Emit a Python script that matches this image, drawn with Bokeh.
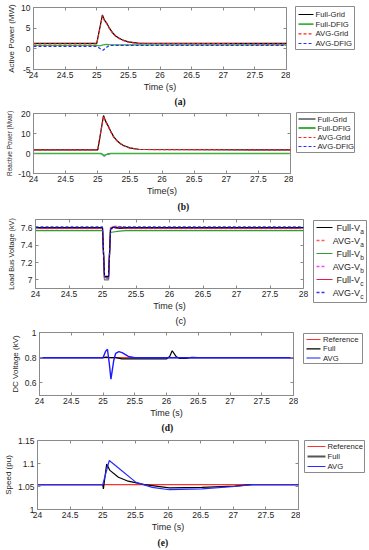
from bokeh.plotting import figure
from bokeh.layouts import column, row
from bokeh.models import LinearAxis, FixedTicker, Range1d, Title, Plot
from bokeh.embed import file_html
from bokeh.resources import INLINE
from bokeh.core.properties import value

# ---------------- data ----------------
x_ticks = [24, 24.5, 25, 25.5, 26, 26.5, 27, 27.5, 28]
x_tick_labels = ["24", "24.5", "25", "25.5", "26", "26.5", "27", "27.5", "28"]

# (a) active power
a_y_ticks = [-5, 0, 5, 10]
a_y_tick_labels = ["-5", "0", "5", "10"]
a_legend_labels = ["Full-Grid", "Full-DFIG", "AVG-Grid", "AVG-DFIG"]
a_t_grid = [24.0, 25.0, 25.09, 25.12, 25.17, 25.2, 25.25, 25.3, 25.35, 25.4, 25.5, 25.65, 28.0]
a_full_grid = [1.3, 1.3, 8.2, 7.0, 5.9, 5.0, 3.9, 3.1, 2.6, 2.2, 1.7, 1.4, 1.3]
a_avg_grid = [1.2, 1.2, 8.1, 6.9, 5.8, 4.9, 3.8, 3.0, 2.5, 2.1, 1.6, 1.3, 1.2]
a_t_dfig = [24.0, 25.0, 25.05, 25.1, 25.15, 25.2, 25.3, 28.0]
a_full_dfig = [0.85, 0.85, 0.7, 0.95, 1.1, 1.0, 0.95, 0.95]
a_avg_dfig = [0.6, 0.6, 0.1, -0.35, 0.3, 0.85, 0.85, 0.85]

# (b) reactive power
b_y_ticks = [-10, 0, 10, 20]
b_y_tick_labels = ["-10", "0", "10", "20"]
b_legend_labels = ["Full-Grid", "Full-DFIG", "AVG-Grid", "AVG-DFIG"]
b_t_grid = [24.0, 25.0, 25.09, 25.12, 25.17, 25.2, 25.25, 25.3, 25.35, 25.4, 25.5, 25.65, 28.0]
b_full_grid = [1.8, 1.8, 19.0, 16.3, 13.3, 11.2, 8.3, 6.4, 5.0, 4.0, 2.8, 2.0, 1.8]
b_avg_grid = [1.8, 1.8, 18.7, 16.0, 13.0, 11.0, 8.1, 6.3, 4.9, 3.9, 2.7, 2.0, 1.8]
b_t_dfig = [24.0, 25.05, 25.1, 25.15, 25.2, 28.0]
b_full_dfig = [0.0, 0.0, -1.0, -0.3, 0.0, 0.0]
b_avg_dfig = [0.0, 0.0, -1.3, -0.4, 0.0, 0.0]

# (c) load bus voltage
c_y_ticks = [7, 7.2, 7.4, 7.6]
c_y_tick_labels = ["7", "7.2", "7.4", "7.6"]
c_legend_names = ["Full-V", "AVG-V", "Full-V", "AVG-V", "Full-V", "AVG-V"]
c_legend_subs = ["a", "a", "b", "b", "c", "c"]
c_time = [24.0, 25.0, 25.03, 25.09, 25.12, 25.16, 25.25, 25.35, 28.0]
c_full_va = [7.605, 7.605, 7.04, 7.04, 7.59, 7.61, 7.60, 7.605, 7.605]
c_avg_va = [7.60, 7.60, 7.02, 7.03, 7.60, 7.625, 7.62, 7.60, 7.60]
c_full_vb = [7.57, 7.57, 7.00, 7.00, 7.55, 7.555, 7.565, 7.57, 7.57]
c_avg_vb = [7.595, 7.595, 7.01, 7.01, 7.58, 7.60, 7.60, 7.595, 7.595]
c_full_vc = [7.60, 7.60, 7.03, 7.03, 7.59, 7.61, 7.60, 7.60, 7.60]
c_avg_vc = [7.615, 7.615, 7.02, 7.02, 7.60, 7.615, 7.615, 7.615, 7.615]

# (d) DC voltage
d_y_ticks = [0.6, 0.8, 1.0]
d_y_tick_labels = ["0.6", "0.8", "1"]
d_legend_labels = ["Reference", "Full", "AVG"]
d_t_ref = [24.0, 28.0]
d_ref = [0.8, 0.8]
d_t_full = [24.0, 25.0, 25.05, 25.1, 25.2, 25.3, 26.0, 26.05, 26.09, 26.15, 26.2, 26.3, 26.4, 26.5, 28.0]
d_full = [0.8, 0.8, 0.805, 0.80, 0.80, 0.79, 0.79, 0.81, 0.855, 0.81, 0.795, 0.795, 0.803, 0.80, 0.80]
d_t_avg = [24.0, 25.0, 25.04, 25.07, 25.1, 25.125, 25.17, 25.2, 25.25, 25.3, 25.4, 25.5, 28.0]
d_avg = [0.8, 0.8, 0.85, 0.867, 0.75, 0.63, 0.78, 0.835, 0.848, 0.84, 0.81, 0.80, 0.80]

# (e) speed
e_y_ticks = [1.0, 1.05, 1.1, 1.15]
e_y_tick_labels = ["1", "1.05", "1.1", "1.15"]
e_legend_labels = ["Reference", "Full", "AVG"]
e_t_ref = [24.0, 28.0]
e_ref = [1.054, 1.054]
e_t_full = [24.0, 25.0, 25.01, 25.06, 25.11, 25.24, 25.39, 25.64, 26.02, 26.52, 27.02, 27.27, 28.0]
e_full = [1.054, 1.054, 1.045, 1.099, 1.085, 1.070, 1.0615, 1.054, 1.047, 1.048, 1.051, 1.054, 1.054]
e_t_avg = [24.0, 25.0, 25.1, 25.26, 25.51, 25.76, 26.02, 26.52, 27.02, 27.3, 28.0]
e_avg = [1.054, 1.054, 1.1065, 1.088, 1.059, 1.048, 1.043, 1.045, 1.050, 1.054, 1.054]

# ---------------- style ----------------
FONT = "Liberation Sans"
SERIF = "Liberation Serif"
AX = "#8a8a8a"
TXT = "#262626"
LW = 1.2
DASH = "3 2"
BLACK, GREEN, RED, BLUE = "black", "#3fae3f", "#ff2020", "#2a2aff"
NOALIGN = {"frame_align": False} if "frame_align" in Plot.properties() else {}


def base_fig(width, height, left, right, top, bottom, yr, y_ticks, y_labels,
             y_label, x_label, y_label_size="8px"):
    p = figure(width=width, height=height, x_range=Range1d(24, 28), y_range=Range1d(*yr),
               output_backend="svg", toolbar_location=None,
               min_border_left=left, min_border_right=right,
               min_border_top=top, min_border_bottom=bottom, **NOALIGN)
    p.grid.visible = False
    p.outline_line_color = AX
    p.outline_line_width = 1
    for ax, ticks, labels in ((p.xaxis[0], x_ticks, x_tick_labels), (p.yaxis[0], y_ticks, y_labels)):
        ax.ticker = FixedTicker(ticks=ticks)
        ax.major_label_overrides = dict(zip(ticks, labels))
        ax.major_tick_in = 3
        ax.major_tick_out = 0
        ax.minor_tick_line_color = None
        ax.axis_line_color = AX
        ax.major_tick_line_color = AX
        ax.major_label_text_font = FONT
        ax.major_label_text_font_size = "8.5px"
        ax.major_label_text_color = TXT
        ax.major_label_standoff = 2
        ax.axis_label_text_font = FONT
        ax.axis_label_text_font_style = "normal"
        ax.axis_label_text_color = TXT
        ax.axis_label_standoff = 1
    p.yaxis[0].major_label_standoff = 3
    p.yaxis[0].axis_label_standoff = 2
    p.xaxis[0].axis_label = x_label
    p.xaxis[0].axis_label_text_font_size = "9px"
    p.yaxis[0].axis_label = y_label
    p.yaxis[0].axis_label_text_font_size = y_label_size
    for ticks, place in ((x_ticks, "above"), (y_ticks, "right")):
        ax = LinearAxis(ticker=FixedTicker(ticks=ticks), major_label_text_font_size="0px",
                        major_label_text_color=None, major_label_standoff=0,
                        axis_line_color=None, major_tick_in=3, major_tick_out=0,
                        minor_tick_line_color=None, major_tick_line_color=AX)
        p.add_layout(ax, place)
    return p


def caption(p, text, offset, standoff, serif=True, size="9.5px"):
    p.add_layout(Title(text=text, align="left", offset=offset, standoff=standoff,
                       text_font=SERIF if serif else FONT,
                       text_font_style="bold" if serif else "normal",
                       text_font_size=size, text_color="#111111"), "below")


def legend_fig(width, height, box_left, box_top, box_w, box_h, labels, styles, rows,
               line_x, text_x, font_size="7.7px", subs=None, sub_dy=3.5):
    lf = figure(width=width, height=height, x_range=Range1d(0, box_w), y_range=Range1d(box_h, 0),
                x_axis_type=None, y_axis_type=None, output_backend="svg", toolbar_location=None,
                min_border_left=box_left, min_border_right=width - box_left - box_w,
                min_border_top=box_top, min_border_bottom=height - box_top - box_h, **NOALIGN)
    lf.grid.visible = False
    lf.outline_line_color = AX
    for i, (lab, (col, dash, lw, x1)) in enumerate(zip(labels, styles)):
        yy = rows[i]
        if dash:
            lf.line([line_x, x1], [yy, yy], color=col, line_width=lw, line_dash=dash)
        else:
            lf.line([line_x, x1], [yy, yy], color=col, line_width=lw)
        if subs is None:
            lf.text([text_x], [yy], text=[lab], text_align="left", text_baseline="middle",
                    text_font=value(FONT), text_font_size=value(font_size), text_color=TXT)
        else:
            lf.text([text_x], [yy], text=[lab], text_align="right", text_baseline="middle",
                    text_font=value(FONT), text_font_size=value(font_size), text_color=TXT)
            lf.text([text_x + 0.3], [yy + sub_dy], text=[subs[i]], text_align="left",
                    text_baseline="middle", text_font=value(FONT),
                    text_font_size=value("6.5px"), text_color=TXT)
    return lf


# ---------------- (a) ----------------
pa = base_fig(290, 110, 33, 4, 7, 41, (-5, 10), a_y_ticks, a_y_tick_labels,
              "Active Power (MW)", "Time (s)")
pa.line(a_t_grid, a_full_grid, color=BLACK, line_width=LW)
pa.line(a_t_dfig, a_full_dfig, color=GREEN, line_width=LW)
pa.line(a_t_grid, a_avg_grid, color=RED, line_width=LW, line_dash=DASH)
pa.line(a_t_dfig, a_avg_dfig, color=BLUE, line_width=LW, line_dash=DASH)
caption(pa, "(a)", 141, 0)
la = legend_fig(79, 110, 5, 6, 59, 43, a_legend_labels,
                [(BLACK, None, 1.0, 18), (GREEN, None, 1.8, 18), (RED, DASH, 1.2, 18), (BLUE, DASH, 1.2, 18)],
                [8, 17.7, 27.3, 37], 3, 20)

# ---------------- (b) ----------------
pb = base_fig(293, 106, 33, 3, 3, 43, (-10, 20), b_y_ticks, b_y_tick_labels,
              "Reactive Power (Mvar)", "Time(s)", y_label_size="6.4px")
pb.line(b_t_grid, b_full_grid, color=BLACK, line_width=LW)
pb.line(b_t_grid, b_avg_grid, color=RED, line_width=LW, line_dash=DASH)
pb.line(b_t_dfig, b_avg_dfig, color=BLUE, line_width=LW, line_dash=DASH)
pb.line(b_t_dfig, b_full_dfig, color=GREEN, line_width=LW + 0.3)
caption(pb, "(b)", 144, 2)
lb = legend_fig(76, 106, 3, 2, 58, 40, b_legend_labels,
                [(BLACK, None, 1.0, 19), (GREEN, None, 1.8, 19), (RED, DASH, 1.2, 19), (BLUE, DASH, 1.2, 19)],
                [6.5, 15.5, 25, 34], 2, 21)

# ---------------- (c) ----------------
pc = base_fig(310, 110, 35, 7, 3, 38, (6.9, 7.7), c_y_ticks, c_y_tick_labels,
              "Load Bus Voltage (kV)", "Time (s)", y_label_size="7.2px")
pc.line(c_time, c_full_vb, color="#2e9e2e", line_width=LW)
pc.line(c_time, c_avg_vb, color="#ff40ff", line_width=LW, line_dash=DASH)
pc.line(c_time, c_full_vc, color="#e8194a", line_width=LW)
pc.line(c_time, c_avg_va, color="#ff5a5a", line_width=LW, line_dash=DASH)
pc.line(c_time, c_full_va, color=BLACK, line_width=LW)
pc.line(c_time, c_avg_vc, color="#3333ff", line_width=LW, line_dash=DASH)
caption(pc, "(c)", 140, 0, serif=False, size="9px")
lc = legend_fig(59, 110, 3, 4, 53, 82, c_legend_names,
                [(BLACK, None, 1.2, 19), ("#ff5a5a", DASH, 1.5, 12), ("#2e9e2e", None, 1.2, 19),
                 ("#ff40ff", DASH, 1.5, 12), ("#e8194a", None, 1.2, 19), ("#3333ff", DASH, 1.5, 12)],
                [7, 20, 33, 46, 59, 72], 3, 46.5, font_size="9px", subs=c_legend_subs)

# ---------------- (d) ----------------
pd_ = base_fig(298, 108, 39, 5, 6, 39, (0.5, 1.0), d_y_ticks, d_y_tick_labels,
               "DC Voltage (kV)", "Time (s)")
pd_.line(d_t_ref, d_ref, color="#ff3030", line_width=LW)
pd_.line(d_t_full, d_full, color=BLACK, line_width=LW)
pd_.line(d_t_avg, d_avg, color="#1a1aff", line_width=LW + 0.2)
caption(pd_, "(d)", 122, 0)
ld = legend_fig(71, 108, 5, 7, 59, 30, d_legend_labels,
                [("#ff3030", None, 1.0, 17), (BLACK, None, 1.2, 17), ("#1a1aff", None, 1.2, 17)],
                [6, 15.3, 24.5], 3, 19.5)

# ---------------- (e) ----------------
pe = base_fig(300, 116, 33, 2, 6, 41, (1.0, 1.15), e_y_ticks, e_y_tick_labels,
              "Speed (pu)", "Time (s)")
pe.line(e_t_ref, e_ref, color="#ff3030", line_width=LW)
pe.line(e_t_full, e_full, color=BLACK, line_width=LW)
pe.line(e_t_avg, e_avg, color=BLUE, line_width=LW)
caption(pe, "(e)", 120, 2)
le = legend_fig(69, 116, 4, 6, 60, 32, e_legend_labels,
                [("#ff3030", None, 1.2, 21), ("#555555", None, 2.0, 21), (BLUE, None, 1.0, 21)],
                [6, 16, 26], 3, 23)

layout = column(row(pa, la), row(pb, lb), row(pc, lc), row(pd_, ld), row(pe, le), spacing=0)

open("out.html", "w").write(file_html(layout, INLINE))
